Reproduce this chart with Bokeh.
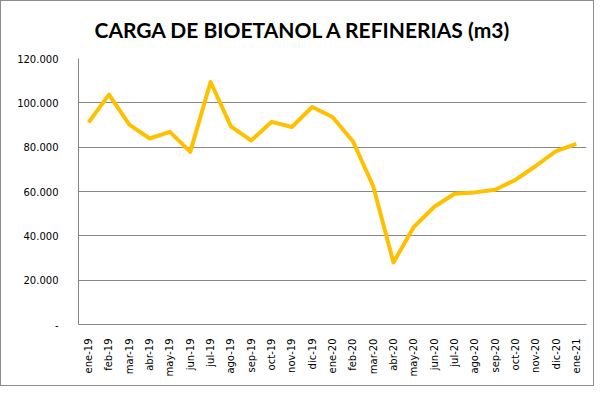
from bokeh.plotting import figure
from bokeh.models import FactorRange, FixedTicker, Range1d, Title
from bokeh.embed import file_html
from bokeh.resources import INLINE
import math

months = ["ene-19", "feb-19", "mar-19", "abr-19", "may-19", "jun-19", "jul-19",
          "ago-19", "sep-19", "oct-19", "nov-19", "dic-19", "ene-20", "feb-20",
          "mar-20", "abr-20", "may-20", "jun-20", "jul-20", "ago-20", "sep-20",
          "oct-20", "nov-20", "dic-20", "ene-21"]
carga = [91200, 103700, 90200, 83900, 86900, 77900, 109400, 89400, 83000,
         91400, 89100, 98100, 93600, 82700, 62500, 28000, 44000, 53000, 59000,
         59600, 60800, 65200, 71500, 78200, 81500]
y_ticks = [0, 20000, 40000, 60000, 80000, 100000, 120000]
y_labels = ["-", "20.000", "40.000", "60.000", "80.000", "100.000", "120.000"]
title_text = "CARGA DE BIOETANOL A REFINERIAS (m3)"

GRID = "#868686"

p = figure(width=594, height=386, x_range=FactorRange(*months),
           y_range=Range1d(0, 120000), output_backend="svg",
           toolbar_location=None, min_border_left=77, min_border_right=9,
           min_border_top=56, min_border_bottom=63)
p.styles = {"border": "1px solid #8c8c8c"}
p.title = Title(text=title_text, align="left", vertical_align="top",
                offset=16, standoff=30, text_font="Lato",
                text_font_size="21px", text_font_style="bold",
                text_color="#000000")

p.line(months, carga, line_color="#FFC000", line_width=4, line_join="round")

p.outline_line_color = None
p.xgrid.grid_line_color = None
p.ygrid.grid_line_color = GRID
p.ygrid.grid_line_width = 1
p.ygrid.ticker = FixedTicker(ticks=y_ticks)

p.yaxis.ticker = FixedTicker(ticks=y_ticks)
p.yaxis.major_label_overrides = {t: l for t, l in zip(y_ticks, y_labels)}
p.yaxis.axis_line_color = GRID
p.yaxis.major_tick_line_color = None
p.yaxis.minor_tick_line_color = None
p.yaxis.major_label_text_font = "DejaVu Sans"
p.yaxis.major_label_text_font_size = "10px"
p.yaxis.major_label_text_color = "#000000"
p.yaxis.major_label_standoff = 14

p.xaxis.axis_line_color = GRID
p.xaxis.major_tick_line_color = None
p.xaxis.minor_tick_line_color = None
p.xaxis.major_label_orientation = math.pi / 2
p.xaxis.major_label_text_font = "DejaVu Sans"
p.xaxis.major_label_text_font_size = "10px"
p.xaxis.major_label_text_color = "#000000"
p.xaxis.major_label_standoff = 8

open("out.html", "w").write(file_html(p, INLINE))
